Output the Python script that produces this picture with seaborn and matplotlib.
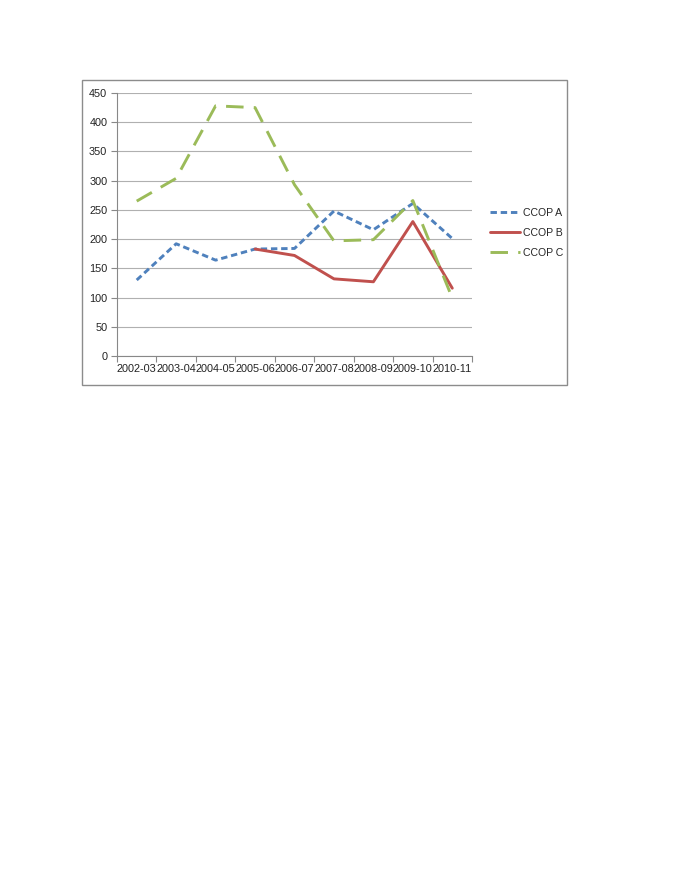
import pandas as pd
import numpy as np
import seaborn as sns
import matplotlib.pyplot as plt
from matplotlib.patches import Rectangle
from matplotlib.ticker import FixedLocator

# dados
anos = ["2002-03", "2003-04", "2004-05", "2005-06", "2006-07",
        "2007-08", "2008-09", "2009-10", "2010-11"]
ccop_a = [130, 192, 164, 183, 184, 248, 216, 261, 201]
ccop_b = [np.nan, np.nan, np.nan, 183, 172, 132, 127, 230, 116]
ccop_c = [265, 304, 428, 425, 293, 197, 199, 266, 99]
series = ["CCOP A", "CCOP B", "CCOP C"]

df = pd.DataFrame({"ano": anos, "CCOP A": ccop_a, "CCOP B": ccop_b, "CCOP C": ccop_c})
df["pos"] = range(len(anos))
longo = df.melt(id_vars=["ano", "pos"], value_vars=series, var_name="serie", value_name="valor")
longo = longo.dropna()

sns.set_theme(style="white")
plt.rcParams["font.family"] = ["Liberation Sans", "DejaVu Sans"]

W, H = 685, 886
fig = plt.figure(figsize=(W / 100, H / 100), dpi=100)
ax = fig.add_axes([117 / W, (H - 356) / H, (472 - 117) / W, (356 - 93) / H])

cores = {"CCOP A": "#4F81BD", "CCOP B": "#C0504D", "CCOP C": "#9BBB59"}
tracos = {"CCOP A": (2.2, 1.3), "CCOP B": "", "CCOP C": (6, 3.5)}

sns.lineplot(data=longo, x="pos", y="valor", hue="serie", style="serie",
             palette=cores, dashes=tracos, linewidth=2.1, sort=False,
             estimator=None, ax=ax, legend=True)

ax.set_xlim(-0.5, len(anos) - 0.5)
ax.set_ylim(0, 450)
ax.set_yticks(range(0, 451, 50))
ax.set_xticks(range(len(anos)))
ax.set_xticklabels(anos)
ax.xaxis.set_minor_locator(FixedLocator(np.arange(-0.5, len(anos), 1)))
ax.tick_params(axis="x", which="major", length=0, pad=6, labelsize=7.8, colors="#222222")
ax.tick_params(axis="x", which="minor", length=4, width=0.8, color="#888888", bottom=True)
ax.tick_params(axis="y", which="major", length=4, width=0.8, color="#888888",
               left=True, labelsize=7.8, colors="#222222", pad=3)
ax.yaxis.grid(True, color="#b0b0b0", linewidth=0.8)
ax.set_axisbelow(True)
ax.set_xlabel("")
ax.set_ylabel("")
for lado in ["top", "right"]:
    ax.spines[lado].set_visible(False)
for lado in ["left", "bottom"]:
    ax.spines[lado].set_color("#888888")
    ax.spines[lado].set_linewidth(0.8)

leg = ax.legend(loc="upper left", bbox_to_anchor=(480 / W, (H - 198) / H),
                bbox_transform=fig.transFigure, frameon=False, fontsize=7.6,
                handlelength=2.9, handletextpad=0.25, labelspacing=0.95, title=None)

# moldura do grafico
fig.patches.append(Rectangle((82 / W, (H - 385) / H), 485 / W, 305 / H,
                             transform=fig.transFigure, fill=False,
                             edgecolor="#8c8c8c", linewidth=1))

plt.savefig("out.png", dpi=100)
